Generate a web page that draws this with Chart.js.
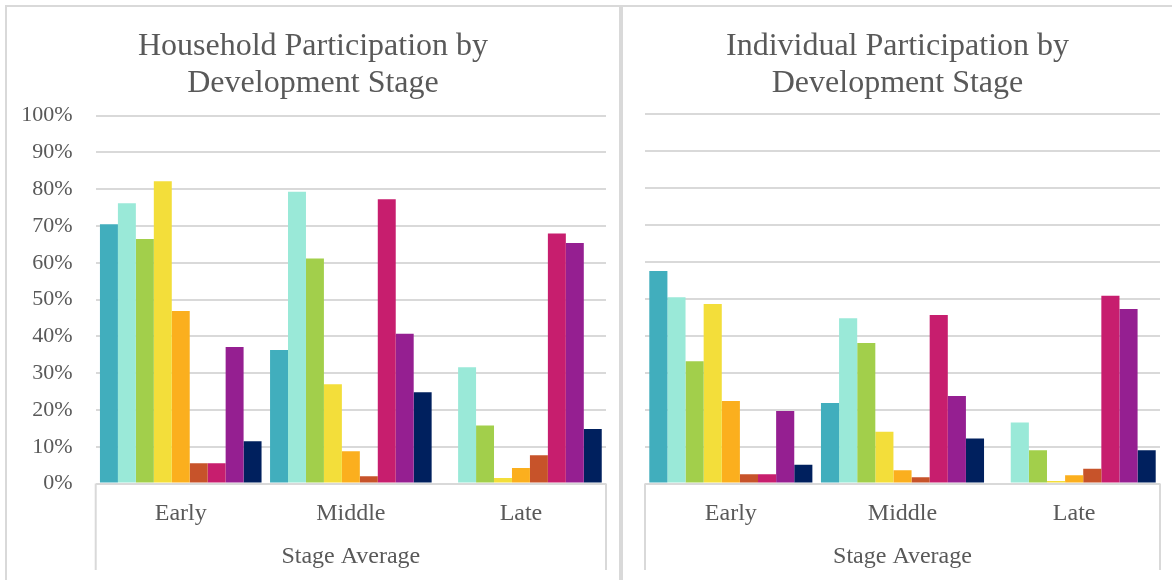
<!DOCTYPE html>
<html>
<head>
<meta charset="utf-8">
<script src="https://cdn.jsdelivr.net/npm/chart.js@4/dist/chart.umd.min.js"></script>
<style>
  html, body { margin: 0; padding: 0; background: #fff; }
  #page { position: relative; width: 1172px; height: 580px; overflow: hidden; background: #fff; }
  .rule { position: absolute; background: #d9d9d9; }
  .panel { position: absolute; }
  .panel canvas { display: block; }
</style>
</head>
<body>
<div id="page">
  <div class="rule" style="left:5px;top:5px;width:1167px;height:2px"></div>
  <div class="rule" style="left:5px;top:5px;width:2px;height:575px"></div>
  <div class="rule" style="left:619px;top:5px;width:4px;height:575px"></div>
  <div class="panel" style="left:7px;top:7px;width:612px;height:573px"><canvas id="household" width="612" height="573"></canvas></div>
  <div class="panel" style="left:623px;top:7px;width:549px;height:573px"><canvas id="individual" width="549" height="573"></canvas></div>
</div>
<script>
// Stage categories and axis labels
const stages = ['Early', 'Middle', 'Late'];
const groupTitle = 'Stage Average';
const yTicks = [0, 10, 20, 30, 40, 50, 60, 70, 80, 90, 100];

// Series colours, one per group of respondents
const seriesNames = ['Series 1', 'Series 2', 'Series 3', 'Series 4', 'Series 5', 'Series 6', 'Series 7', 'Series 8', 'Series 9'];
const seriesColors = ['#41AEBD', '#9AE9D8', '#A2CF4B', '#F3DE3A', '#FBAF1E', '#C7532A', '#C71E6E', '#951F91', '#00205E'];

// Household participation (%), one array per series: [Early, Middle, Late]
const household1 = [70.5, 36.3, 0];
const household2 = [76.2, 79.3, 31.6];
const household3 = [66.5, 61.2, 15.8];
const household4 = [82.2, 27.0, 1.5];
const household5 = [46.9, 8.8, 4.2];
const household6 = [5.5, 2.0, 7.7];
const household7 = [5.5, 77.3, 68.0];
const household8 = [37.1, 40.7, 65.4];
const household9 = [11.5, 24.8, 14.8];

// Individual participation (%)
const individual1 = [57.5, 21.8, 0];
const individual2 = [50.4, 44.7, 16.5];
const individual3 = [33.1, 38.0, 9.0];
const individual4 = [48.6, 14.0, 0.7];
const individual5 = [22.3, 3.6, 2.2];
const individual6 = [2.5, 1.7, 4.0];
const individual7 = [2.5, 45.6, 50.8];
const individual8 = [19.6, 23.7, 47.2];
const individual9 = [5.1, 12.2, 9.0];

const householdSeries = [household1, household2, household3, household4, household5, household6, household7, household8, household9];
const individualSeries = [individual1, individual2, individual3, individual4, individual5, individual6, individual7, individual8, individual9];

const FONT = "'Liberation Serif', 'Times New Roman', serif";
const TEXT = '#595959';
const LINE = '#d9d9d9';

// Draws the frame around the category labels below the plot
const categoryFrame = {
  id: 'categoryFrame',
  afterDraw(chart, args, opts) {
    const { ctx, chartArea } = chart;
    ctx.save();
    ctx.strokeStyle = LINE;
    ctx.lineWidth = 2;
    ctx.beginPath();
    [chartArea.left, chartArea.right].forEach(x => {
      ctx.moveTo(x, chartArea.bottom);
      ctx.lineTo(x, opts.bottom);
    });
    ctx.stroke();
    ctx.restore();
  }
};

function makeChart(id, titleLines, series, cfg) {
  const datasets = series.map((values, i) => ({
    label: seriesNames[i],
    data: values,
    backgroundColor: seriesColors[i],
    borderWidth: 0,
    categoryPercentage: 0.95,
    barPercentage: 1.0
  }));
  return new Chart(document.getElementById(id), {
    type: 'bar',
    data: { labels: stages, datasets },
    plugins: [categoryFrame],
    options: {
      responsive: false,
      animation: false,
      events: [],
      layout: { padding: 0 },
      plugins: {
        legend: { display: false },
        tooltip: { enabled: false },
        title: {
          display: true,
          text: titleLines,
          color: TEXT,
          font: { family: FONT, size: 32, weight: 'normal', lineHeight: 1.15 },
          padding: { top: cfg.titleTop, bottom: cfg.titleBottom }
        },
        categoryFrame: { bottom: 563 }
      },
      scales: {
        x: {
          grid: { display: false },
          border: { display: false },
          ticks: {
            color: TEXT,
            font: { family: FONT, size: 24 },
            padding: 8,
            maxRotation: 0
          },
          title: {
            display: true,
            text: groupTitle,
            color: TEXT,
            font: { family: FONT, size: 24 },
            padding: { top: 0, bottom: 8.6 }
          },
          afterFit(scale) { scale.height = 96.5; }
        },
        y: {
          min: 0,
          max: 100,
          afterBuildTicks(scale) { scale.ticks = yTicks.map(v => ({ value: v })); },
          grid: { color: LINE, lineWidth: 2, drawTicks: false },
          border: { display: false },
          ticks: {
            display: cfg.showTicks,
            color: TEXT,
            font: { family: FONT, size: 22 },
            padding: 23,
            callback: v => v + '%'
          },
          afterFit(scale) { scale.width = cfg.axisWidth; }
        },
        // empty margin on the right of the plot, keeps the title centred on the whole panel
        margin: {
          type: 'linear',
          position: 'right',
          grid: { display: false },
          border: { display: false },
          ticks: { display: false },
          afterFit(scale) { scale.width = cfg.padRight; }
        }
      }
    }
  });
}

makeChart('household', ['Household Participation by', 'Development Stage'], householdSeries,
  { padRight: 13, titleTop: 21.6, titleBottom: 13.5, showTicks: true, axisWidth: 88.7 });
makeChart('individual', ['Individual Participation by', 'Development Stage'], individualSeries,
  { padRight: 12, titleTop: 21.6, titleBottom: 11.8, showTicks: false, axisWidth: 22 });
</script>
</body>
</html>
